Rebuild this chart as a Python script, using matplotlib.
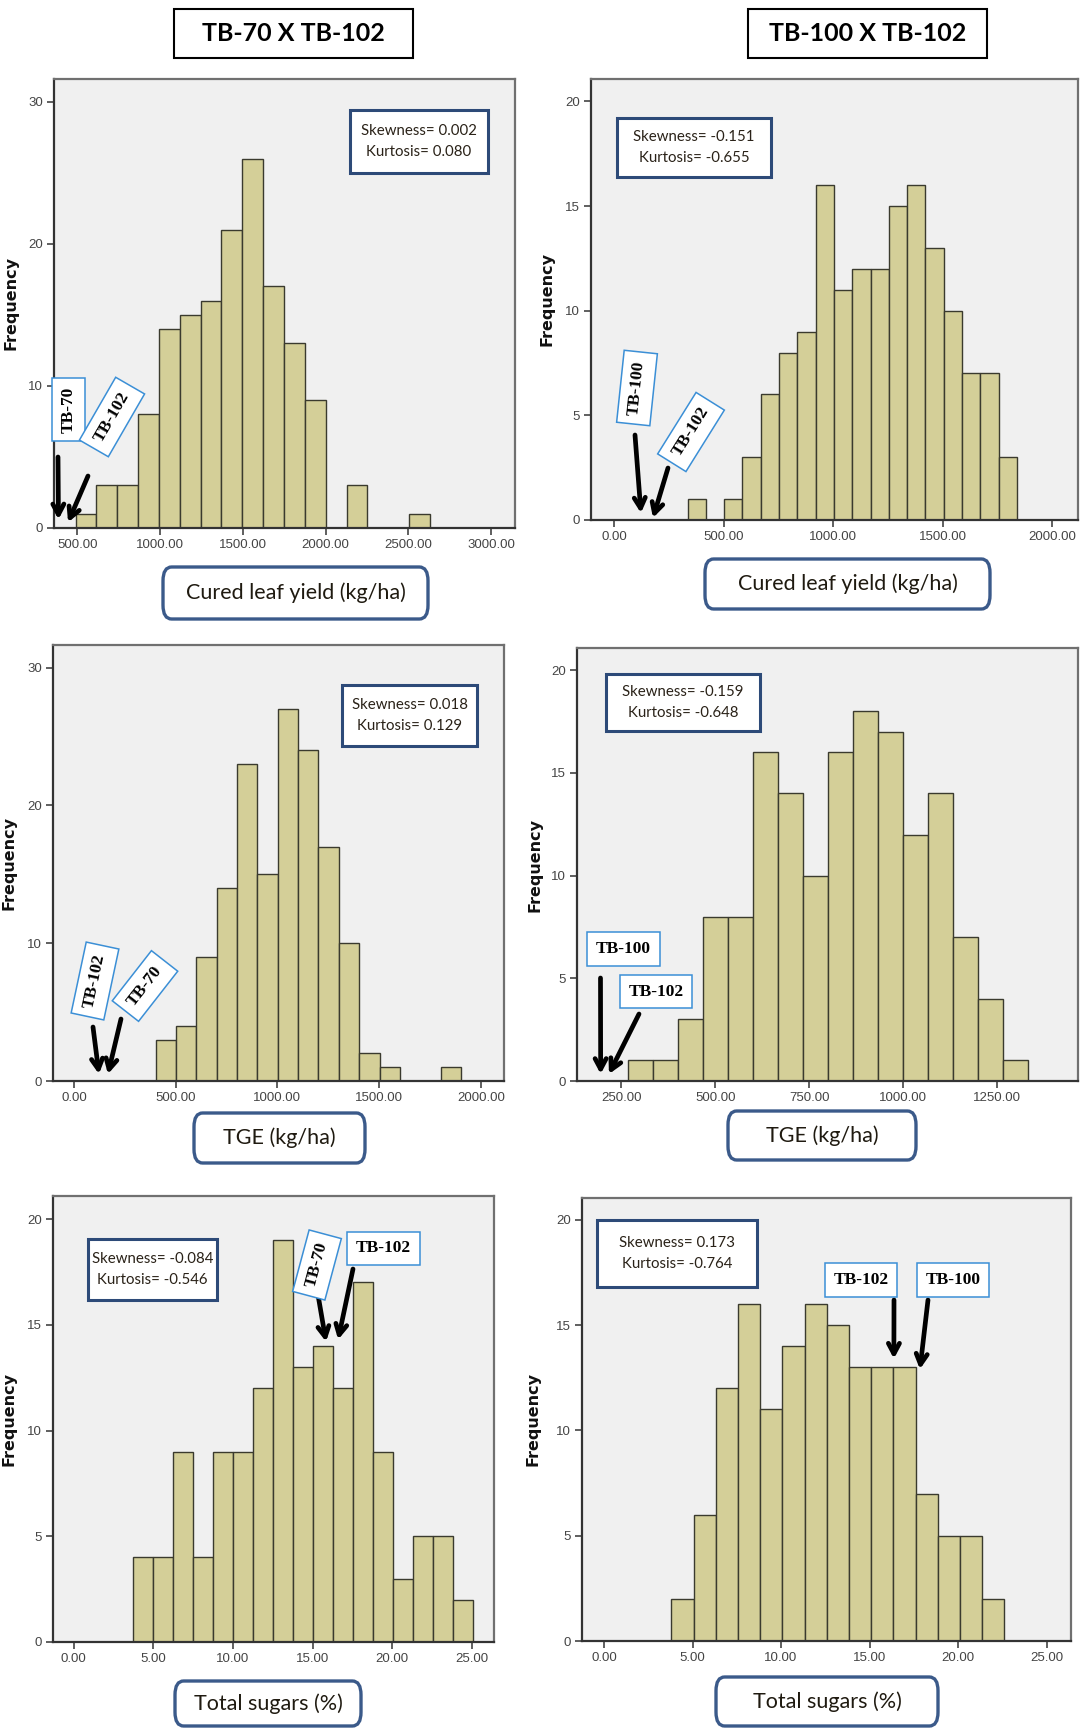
import numpy as np
import matplotlib
matplotlib.use("Agg")
import matplotlib.pyplot as plt
from matplotlib.patches import FancyBboxPatch

# ------------------------------------------------------------------ data
titles = ["TB-70 X TB-102", "TB-100 X TB-102"]

yield_70_counts = [1, 3, 3, 8, 14, 15, 16, 21, 26, 17, 13, 9, 0, 3, 0, 0, 1]
yield_70_bin_start, yield_70_bin_width = 488, 126
yield_100_counts = [1, 0, 1, 3, 6, 8, 9, 16, 11, 12, 12, 15, 16, 13, 10, 7, 7, 3]
yield_100_bin_start, yield_100_bin_width = 335, 83.5
tge_70_counts = [3, 4, 9, 14, 23, 15, 27, 24, 17, 10, 2, 1, 0, 0, 1]
tge_70_bin_start, tge_70_bin_width = 402, 100
tge_100_counts = [1, 1, 3, 8, 8, 16, 14, 10, 16, 18, 17, 12, 14, 7, 4, 1]
tge_100_bin_start, tge_100_bin_width = 268.5, 66.45
sugar_70_counts = [4, 4, 9, 4, 9, 9, 12, 19, 13, 14, 12, 17, 9, 3, 5, 5, 2]
sugar_70_bin_start, sugar_70_bin_width = 3.74, 1.256
sugar_100_counts = [2, 6, 12, 16, 11, 14, 16, 15, 13, 13, 13, 7, 5, 5, 2]
sugar_100_bin_start, sugar_100_bin_width = 3.81, 1.253

skewness = ["0.002", "-0.151", "0.018", "-0.159", "-0.084", "0.173"]
kurtosis = ["0.080", "-0.655", "0.129", "-0.648", "-0.546", "-0.764"]
x_labels = ["Cured leaf yield (kg/ha)", "Cured leaf yield (kg/ha)",
            "TGE (kg/ha)", "TGE (kg/ha)",
            "Total sugars (%)", "Total sugars (%)"]

x_ticks = [[500, 1000, 1500, 2000, 2500, 3000],
           [0, 500, 1000, 1500, 2000],
           [0, 500, 1000, 1500, 2000],
           [250, 500, 750, 1000, 1250],
           [0, 5, 10, 15, 20, 25],
           [0, 5, 10, 15, 20, 25]]
y_ticks = [[0, 10, 20, 30], [0, 5, 10, 15, 20], [0, 10, 20, 30],
           [0, 5, 10, 15, 20], [0, 5, 10, 15, 20], [0, 5, 10, 15, 20]]
x_limits = [(358, 3144), (-106, 2117), (-103, 2114), (132, 1466),
            (-1.31, 26.39), (-1.24, 26.37)]
y_limits = [(0, 31.6), (0, 21.07), (0, 31.64), (0, 21.08), (0, 21.09), (0, 21.03)]

# parent names and the (value, height) each arrow points at
parent_names = [["TB-70", "TB-102"], ["TB-100", "TB-102"], ["TB-102", "TB-70"],
                ["TB-100", "TB-102"], ["TB-70", "TB-102"], ["TB-102", "TB-100"]]
parent_points = [[(385, 0.6), (443, 0.4)],
                 [(122, 0.33), (177, 0.1)],
                 [(123, 0.5), (167, 0.5)],
                 [(195, 0.34), (217, 0.34)],
                 [(15.84, 14.2), (16.6, 14.3)],
                 [(16.37, 13.4), (17.84, 12.9)]]

counts_list = [yield_70_counts, yield_100_counts, tge_70_counts,
               tge_100_counts, sugar_70_counts, sugar_100_counts]
bin_starts = [yield_70_bin_start, yield_100_bin_start, tge_70_bin_start,
              tge_100_bin_start, sugar_70_bin_start, sugar_100_bin_start]
bin_widths = [yield_70_bin_width, yield_100_bin_width, tge_70_bin_width,
              tge_100_bin_width, sugar_70_bin_width, sugar_100_bin_width]

# ------------------------------------------------------------------ layout (pixels)
W, H = 1081, 1728
axes_px = [(54, 79, 515, 528), (591, 79, 1078, 520),
           (53, 645, 504, 1081), (577, 648, 1078, 1081),
           (53, 1196, 494, 1642), (582, 1198, 1071, 1641)]
ylabel_x_px = [19, 554, 17, 543, 17, 541]
stats_px = [(350, 110, 488, 173), (617, 118, 771, 177),
            (342, 685, 477, 746), (606, 674, 760, 731),
            (88, 1239, 217, 1300), (597, 1220, 757, 1287)]
xlab_px = [(163, 567, 428, 619), (705, 559, 990, 609),
           (194, 1113, 365, 1163), (728, 1111, 916, 1160),
           (175, 1681, 361, 1726), (716, 1677, 938, 1726)]
title_px = [(174, 9, 413, 58), (748, 9, 987, 58)]
# label box centre, rotation, arrow tail
tb_label_px = [[((68.5, 409.5), 90), ((112, 417), 60)],
               [((637, 388), 84), ((691, 432), 58)],
               [((95, 981), 78), ((145, 986), 52)],
               [((623.5, 949), 0), ((656, 991.5), 0)],
               [((317, 1265), 75), ((383.5, 1248.5), 0)],
               [((861, 1280), 0), ((953, 1280), 0)]]
tail_px = [[(58, 457), (88, 476)],
           [(635, 435), (668, 468)],
           [(93, 1027), (121, 1019)],
           [(600.5, 978), (639, 1014)],
           [(317, 1289), (353, 1269)],
           [(894, 1300), (928, 1300)]]

BAR = "#d4cf98"
BG = "#f0f0f0"
TICK_FONT = ["Liberation Sans Narrow", "Liberation Sans", "DejaVu Sans"]


def fx(x):
    return x / W


def fy(y):
    return 1 - y / H


fig = plt.figure(figsize=(W / 100, H / 100), dpi=100)
fig.patch.set_facecolor("white")


def add_box(x0, y0, x1, y1, ec, lw, rounded=False, fc="white"):
    style = "round,pad=0,rounding_size=0.008" if rounded else "square,pad=0"
    p = FancyBboxPatch((fx(x0), fy(y1)), fx(x1) - fx(x0), fy(y0) - fy(y1),
                       boxstyle=style, transform=fig.transFigure,
                       fc=fc, ec=ec, lw=lw, zorder=5)
    fig.add_artist(p)


# titles
for t, (x0, y0, x1, y1) in zip(titles, title_px):
    add_box(x0, y0, x1, y1, "black", 1.5)
    fig.text(fx((x0 + x1) / 2), fy((y0 + y1) / 2), t, ha="center", va="center",
             fontsize=18, fontweight="bold", family=["Lato", "DejaVu Sans"],
             zorder=6)

for i in range(6):
    x0, y0, x1, y1 = axes_px[i]
    ax = fig.add_axes([fx(x0), fy(y1), fx(x1) - fx(x0), fy(y0) - fy(y1)])
    ax.set_facecolor(BG)
    counts = counts_list[i]
    edges = bin_starts[i] + bin_widths[i] * np.arange(len(counts) + 1)
    ax.hist(edges[:-1], bins=edges, weights=counts, color=BAR,
            edgecolor="#3a3a2e", linewidth=1.0, zorder=2)
    ax.set_xlim(*x_limits[i])
    ax.set_ylim(*y_limits[i])
    ax.set_xticks(x_ticks[i])
    ax.set_xticklabels([f"{v:.2f}" for v in x_ticks[i]])
    ax.set_yticks(y_ticks[i])
    ax.set_yticklabels([str(v) for v in y_ticks[i]])
    ax.tick_params(direction="out", length=5, width=1.2, colors="#444444",
                   labelsize=9.5, pad=3)
    for lab in ax.get_xticklabels() + ax.get_yticklabels():
        lab.set_family(TICK_FONT)
    for s in ax.spines.values():
        s.set_color("#707070")
        s.set_linewidth(1.6)
    ax.spines["left"].set_color("#333333")
    ax.spines["bottom"].set_color("#333333")
    ax.set_ylabel("Frequency", fontsize=11.5, fontweight="bold",
                  family=["DejaVu Sans"], color="#111111")
    ax.yaxis.set_label_coords((ylabel_x_px[i] - x0) / (x1 - x0), 0.5)

    # statistics box
    sx0, sy0, sx1, sy1 = stats_px[i]
    add_box(sx0, sy0, sx1, sy1, "#2d4a78", 2.2)
    fig.text(fx((sx0 + sx1) / 2), fy((sy0 + sy1) / 2),
             f"Skewness= {skewness[i]}\nKurtosis= {kurtosis[i]}",
             ha="center", va="center", fontsize=10.8, linespacing=1.55,
             family=["Lato", "DejaVu Sans"], color="#2a2218", zorder=6)

    # x-axis label box
    bx0, by0, bx1, by1 = xlab_px[i]
    add_box(bx0, by0, bx1, by1, "#3b5a8a", 2.4, rounded=True)
    fig.text(fx((bx0 + bx1) / 2), fy((by0 + by1) / 2), x_labels[i],
             ha="center", va="center", fontsize=15.5,
             family=["Lato", "DejaVu Sans"], color="#1f1a10", zorder=6)

    # parent labels and arrows
    for name, pt, (centre, rot), tail in zip(parent_names[i], parent_points[i],
                                              tb_label_px[i], tail_px[i]):
        ax.annotate("", xy=pt, xycoords="data",
                    xytext=(fx(tail[0]), fy(tail[1])),
                    textcoords="figure fraction", annotation_clip=False,
                    arrowprops=dict(arrowstyle="->,head_length=0.75,head_width=0.4",
                                    lw=3.4, color="black", shrinkA=0, shrinkB=0),
                    zorder=7)
        fig.text(fx(centre[0]), fy(centre[1]), name, rotation=rot,
                 rotation_mode="anchor", ha="center", va="center",
                 fontsize=12.5, fontweight="bold",
                 family=["Liberation Serif", "DejaVu Serif"], color="black",
                 bbox=dict(boxstyle="square,pad=0.5", fc="white",
                           ec="#3b8fd6", lw=1.1), zorder=8)

fig.savefig("out.png", dpi=100, facecolor="white")
